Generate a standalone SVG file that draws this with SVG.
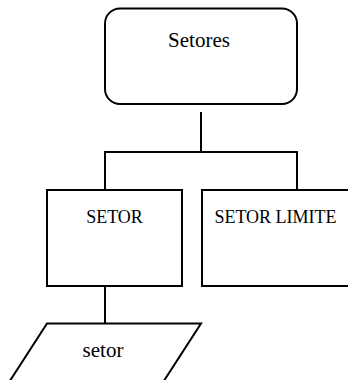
<svg xmlns="http://www.w3.org/2000/svg" width="348" height="380" viewBox="0 0 348 380">
  <style>
    .shape { fill: #ffffff; stroke: #000000; stroke-width: 2; }
    .wire { fill: none; stroke: #000000; stroke-width: 2; }
    .label { font-family: "Liberation Serif", "Times New Roman", serif; fill: #000000; text-anchor: middle; }
  </style>
  <rect x="0" y="0" width="348" height="380" fill="#ffffff"/>

  <g id="connectors">
    <path class="wire" d="M201 112 V152"/>
    <path class="wire" d="M105 190 V152 H297 V190"/>
    <path class="wire" d="M105 286 V323.5"/>
  </g>

  <g id="setores">
    <rect class="shape" x="105" y="8.5" width="192" height="95.5" rx="15" ry="15"/>
    <text class="label" x="199" y="46.5" font-size="21">Setores</text>
  </g>

  <g id="setor-box">
    <rect class="shape" x="47" y="190" width="135" height="96"/>
    <text class="label" x="114.5" y="222.5" font-size="18">SETOR</text>
  </g>

  <g id="setor-limite">
    <rect class="shape" x="202" y="190" width="148" height="96"/>
    <text class="label" x="275.5" y="222.5" font-size="18">SETOR LIMITE</text>
  </g>

  <g id="setor-data">
    <polygon class="shape" points="47,323.5 201,323.5 158,390 4,390"/>
    <text class="label" x="103" y="357" font-size="21">setor</text>
  </g>
</svg>
